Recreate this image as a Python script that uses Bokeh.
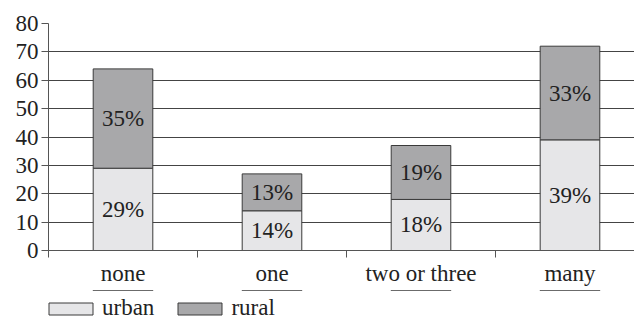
from bokeh.plotting import figure
from bokeh.layouts import column
from bokeh.models import FixedTicker, Range1d, Legend, LegendItem, ColumnDataSource
from bokeh.core.properties import value
from bokeh.embed import file_html
from bokeh.resources import INLINE

categories = ["none", "one", "two or three", "many"]
urban = [29, 14, 18, 39]
rural = [35, 13, 19, 33]
y_ticks = [0, 10, 20, 30, 40, 50, 60, 70, 80]
boundaries = [0, 1, 2, 3, 4]
series_names = ["urban", "rural"]

FONT = "Liberation Serif"
FS = "23px"
URBAN_C = "#e6e6e8"
RURAL_C = "#a8a8aa"
LINE_C = "#3a3a3a"

xs = [i + 0.5 for i in range(len(categories))]
tops = [u + r for u, r in zip(urban, rural)]

src = ColumnDataSource(dict(
    x=xs, urban=urban, rural=rural, top=tops,
    umid=[u / 2 for u in urban],
    rmid=[u + r / 2 for u, r in zip(urban, rural)],
    ulab=[f"{u}%" for u in urban],
    rlab=[f"{r}%" for r in rural],
))

p = figure(width=634, height=290, output_backend="svg", toolbar_location=None,
           x_range=Range1d(0, 3.933), y_range=Range1d(0, 80))
p.min_border_left = 48
p.min_border_right = 0
p.min_border_top = 23
p.min_border_bottom = 40
p.outline_line_color = None

p.vbar(x="x", bottom=0, top="urban", width=0.4, source=src,
       fill_color=URBAN_C, line_color=LINE_C, line_width=1)
p.vbar(x="x", bottom="urban", top="top", width=0.4, source=src,
       fill_color=RURAL_C, line_color=LINE_C, line_width=1)

p.text(x="x", y="umid", text="ulab", source=src, text_align="center",
       text_baseline="middle", text_font=value(FONT), text_font_size=FS,
       text_color="#222222")
p.text(x="x", y="rmid", text="rlab", source=src, text_align="center",
       text_baseline="middle", text_font=value(FONT), text_font_size=FS,
       text_color="#222222")

# y axis
p.yaxis.ticker = FixedTicker(ticks=y_ticks)
p.yaxis.major_tick_out = 7
p.yaxis.major_tick_in = 0
p.yaxis.minor_tick_line_color = None
p.yaxis.major_label_standoff = 3
p.yaxis.major_label_text_font = FONT
p.yaxis.major_label_text_font_size = FS
p.yaxis.major_label_text_color = "#222222"
p.yaxis.axis_line_color = "#555555"
p.yaxis.major_tick_line_color = "#555555"

# x axis
p.xaxis.ticker = FixedTicker(ticks=xs, minor_ticks=boundaries)
p.xaxis.major_label_overrides = {x: c for x, c in zip(xs, categories)}
p.xaxis.major_tick_line_color = None
p.xaxis.major_tick_out = 0
p.xaxis.major_tick_in = 0
p.xaxis.minor_tick_out = 7
p.xaxis.minor_tick_in = 0
p.xaxis.minor_tick_line_color = "#555555"
p.xaxis.major_label_standoff = 3
p.xaxis.major_label_text_font = FONT
p.xaxis.major_label_text_font_size = FS
p.xaxis.major_label_text_color = "#222222"
p.xaxis.axis_line_color = "#555555"
p.xaxis.axis_label = None

p.xgrid.visible = False
p.ygrid.ticker = FixedTicker(ticks=y_ticks)
p.ygrid.grid_line_color = "#444444"

# legend strip below the chart (its bars lie outside its visible y range)
lg = figure(width=634, height=40, output_backend="svg", toolbar_location=None,
            x_axis_type=None, y_axis_type=None,
            x_range=Range1d(0, 3.933), y_range=Range1d(-2, -1))
lg.min_border_left = 48
lg.min_border_right = 0
lg.min_border_top = 0
lg.min_border_bottom = 0
lg.outline_line_color = None
lg.xgrid.visible = False
lg.ygrid.visible = False
l_u = lg.vbar(x="x", bottom=0, top="urban", width=0.4, source=src,
              fill_color=URBAN_C, line_color=LINE_C)
l_r = lg.vbar(x="x", bottom="urban", top="top", width=0.4, source=src,
              fill_color=RURAL_C, line_color=LINE_C)

legend = Legend(items=[LegendItem(label=series_names[0], renderers=[l_u]),
                       LegendItem(label=series_names[1], renderers=[l_r])],
                orientation="horizontal", location=(-5, 9),
                glyph_width=55, glyph_height=15, label_standoff=4,
                spacing=18, padding=0, margin=0,
                label_text_font=FONT, label_text_font_size=FS,
                label_text_color="#222222",
                border_line_color=None, background_fill_alpha=0)
lg.add_layout(legend, "center")

layout = column(p, lg, spacing=0)
open("out.html", "w").write(file_html(layout, INLINE))
